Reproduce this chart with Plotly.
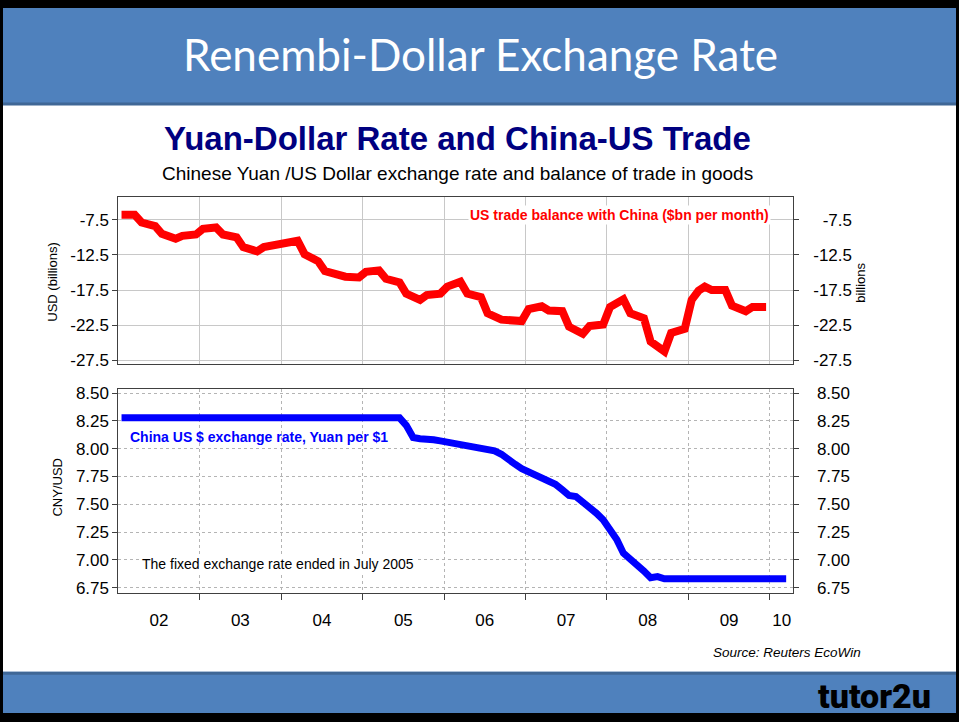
import plotly.graph_objects as go
import pandas as pd

W, H = 959, 722

# ---------------- data ----------------
red_dates = [
    "2002-01-15", "2002-03-15", "2002-04-15", "2002-06-15", "2002-07-15", "2002-09-15",
    "2002-10-15", "2002-12-15", "2003-01-15", "2003-03-15", "2003-04-15", "2003-06-15",
    "2003-07-15", "2003-09-15", "2003-10-15", "2003-12-15", "2004-01-15", "2004-03-15",
    "2004-04-15", "2004-06-15", "2004-07-15", "2004-09-15", "2004-10-15", "2004-12-15",
    "2005-01-15", "2005-03-15", "2005-04-15", "2005-06-15", "2005-07-15", "2005-09-15",
    "2005-10-15", "2005-12-15", "2006-01-15", "2006-03-15", "2006-04-15", "2006-06-15",
    "2006-07-15", "2006-09-15", "2006-10-15", "2006-12-15", "2007-01-15", "2007-03-15",
    "2007-04-15", "2007-06-15", "2007-07-15", "2007-09-15", "2007-10-15", "2007-12-15",
    "2008-01-15", "2008-03-15", "2008-04-15", "2008-06-15", "2008-07-15", "2008-09-15",
    "2008-10-15", "2008-12-15", "2009-01-15", "2009-02-15", "2009-03-15", "2009-04-15",
    "2009-06-15", "2009-07-15", "2009-09-15", "2009-10-15", "2009-12-15",
]
red_values = [
    -6.8, -6.8, -7.9, -8.4, -9.5, -10.2,
    -9.8, -9.6, -8.8, -8.6, -9.6, -10.0,
    -11.4, -12.0, -11.4, -11.1, -10.7, -10.5,
    -12.4, -13.4, -14.8, -15.5, -15.6, -15.7,
    -14.9, -14.7, -15.9, -16.4, -18.0, -18.9,
    -18.2, -18.0, -17.0, -16.3, -18.0, -18.5,
    -20.8, -21.7, -21.8, -21.9, -20.2, -19.8,
    -20.4, -20.5, -22.7, -23.7, -22.6, -22.4,
    -19.9, -18.8, -20.8, -21.5, -24.8, -26.2,
    -23.6, -23.0, -18.9, -17.6, -17.0, -17.5,
    -17.5, -19.7, -20.5, -19.9, -19.9,
]

blue_dates = pd.date_range("2002-01-01", periods=99, freq="MS") + pd.Timedelta(days=14)
blue_values = [
    8.277, 8.277, 8.277, 8.277, 8.277, 8.277, 8.277, 8.277, 8.277, 8.277, 8.277, 8.277,  # 2002
    8.277, 8.277, 8.277, 8.277, 8.277, 8.277, 8.277, 8.277, 8.277, 8.277, 8.277, 8.277,  # 2003
    8.277, 8.277, 8.277, 8.277, 8.277, 8.277, 8.277, 8.277, 8.277, 8.277, 8.277, 8.277,  # 2004
    8.277, 8.277, 8.277, 8.277, 8.277, 8.277, 8.21, 8.10, 8.09, 8.09, 8.08, 8.07,      # 2005
    8.06, 8.05, 8.03, 8.02, 8.01, 8.00, 7.99, 7.98, 7.95, 7.90, 7.86, 7.82,            # 2006
    7.79, 7.76, 7.74, 7.72, 7.68, 7.63, 7.58, 7.57, 7.52, 7.49, 7.42, 7.36,            # 2007
    7.28, 7.18, 7.06, 7.01, 6.97, 6.90, 6.84, 6.85, 6.83, 6.83, 6.83, 6.84,            # 2008
    6.84, 6.84, 6.84, 6.83, 6.83, 6.84, 6.84, 6.84, 6.83, 6.83, 6.83, 6.83,            # 2009
    6.83, 6.83, 6.83,                                                                  # 2010
]

year_bounds = ["2003-01-01", "2004-01-01", "2005-01-01", "2006-01-01",
               "2007-01-01", "2008-01-01", "2009-01-01", "2010-01-01"]
year_label_pos = ["2002-07-02", "2003-07-02", "2004-07-02", "2005-07-02", "2006-07-02",
                  "2007-07-02", "2008-07-02", "2009-07-02", "2010-02-23"]
year_labels = ["02", "03", "04", "05", "06", "07", "08", "09", "10"]

top_ticks = [-7.5, -12.5, -17.5, -22.5, -27.5]
top_tick_text = ["-7.5", "-12.5", "-17.5", "-22.5", "-27.5"]
bot_ticks = [8.50, 8.25, 8.00, 7.75, 7.50, 7.25, 7.00, 6.75]
bot_tick_text = ["8.50", "8.25", "8.00", "7.75", "7.50", "7.25", "7.00", "6.75"]

x_range = ["2002-01-01", "2010-04-16"]
top_range = [-28.06, -4.28]
bot_range = [6.703, 8.536]


def px(x):
    return x / W


def py(y):
    return 1 - y / H


FONT = "Arial"
tickfont = dict(family=FONT, size=17, color="black")

fig = go.Figure()

fig.add_trace(go.Scatter(x=red_dates, y=red_values, mode="lines",
                         line=dict(color="#ff0000", width=8),
                         xaxis="x", yaxis="y", showlegend=False, hoverinfo="skip"))
# carrier for right-hand tick labels (invisible)
fig.add_trace(go.Scatter(x=red_dates, y=red_values, mode="lines", opacity=0,
                         line=dict(width=0), xaxis="x", yaxis="y3",
                         showlegend=False, hoverinfo="skip"))
fig.add_trace(go.Scatter(x=blue_dates, y=blue_values, mode="lines",
                         line=dict(color="#0000ff", width=7),
                         xaxis="x2", yaxis="y2", showlegend=False, hoverinfo="skip"))
fig.add_trace(go.Scatter(x=blue_dates, y=blue_values, mode="lines", opacity=0,
                         line=dict(width=0), xaxis="x2", yaxis="y4",
                         showlegend=False, hoverinfo="skip"))

xdom = [px(118.4), px(793.3)]
top_dom = [py(365), py(195)]
bot_dom = [py(597), py(390)]
axcol = "#404040"

fig.update_layout(
    width=W, height=H,
    margin=dict(l=0, r=0, t=0, b=0),
    paper_bgcolor="black",
    plot_bgcolor="white",
    xaxis=dict(domain=xdom, anchor="y", range=x_range, type="date",
               showticklabels=False, ticks="", showgrid=False, zeroline=False,
               showline=True, linecolor=axcol, linewidth=1, mirror=True,
               tickvals=year_label_pos,
               minor=dict(tickvals=year_bounds, showgrid=True, gridcolor="#c8c8c8",
                          gridwidth=1, ticks="")),
    xaxis2=dict(domain=xdom, anchor="y2", range=x_range, type="date",
                tickvals=year_label_pos, ticktext=year_labels, ticks="",
                tickfont=tickfont, ticklabelstandoff=12,
                showgrid=False, zeroline=False,
                showline=True, linecolor=axcol, linewidth=1, mirror=True,
                minor=dict(tickvals=year_bounds, showgrid=True, gridcolor="#b4b4b4",
                           griddash="dot", gridwidth=1, ticks="outside",
                           ticklen=6, tickcolor=axcol)),
    yaxis=dict(domain=top_dom, anchor="x", range=top_range,
               tickvals=top_ticks, ticktext=top_tick_text, tickfont=tickfont,
               ticks="outside", ticklen=5, tickcolor=axcol,
               showgrid=True, gridcolor="#c8c8c8", gridwidth=1, zeroline=False,
               showline=True, linecolor=axcol, linewidth=1, mirror="ticks"),
    yaxis2=dict(domain=bot_dom, anchor="x2", range=bot_range,
                tickvals=bot_ticks, ticktext=bot_tick_text, tickfont=tickfont,
                ticks="outside", ticklen=5, tickcolor=axcol,
                showgrid=True, gridcolor="#b4b4b4", griddash="dot", gridwidth=1,
                zeroline=False,
                showline=True, linecolor=axcol, linewidth=1, mirror="ticks"),
    yaxis3=dict(overlaying="y", side="left", anchor="free", position=px(852),
                range=top_range, tickvals=top_ticks, ticktext=top_tick_text,
                tickfont=tickfont, ticks="", showgrid=False, zeroline=False,
                showline=False),
    yaxis4=dict(overlaying="y2", side="left", anchor="free", position=px(850),
                range=bot_range, tickvals=bot_ticks, ticktext=bot_tick_text,
                tickfont=tickfont, ticks="", showgrid=False, zeroline=False,
                showline=False),
)

shapes = [
    # slide background
    dict(type="rect", xref="paper", yref="paper", x0=px(3), x1=px(956), y0=py(719), y1=py(3),
         fillcolor="white", line=dict(width=0), layer="below"),
    # header band
    dict(type="rect", xref="paper", yref="paper", x0=px(3), x1=px(956), y0=py(101), y1=py(3),
         fillcolor="#4f81bd", line=dict(width=0), layer="below"),
    dict(type="rect", xref="paper", yref="paper", x0=px(3), x1=px(956), y0=py(102), y1=py(99),
         fillcolor="#3f6796", line=dict(width=0), layer="below"),
    # footer band
    dict(type="rect", xref="paper", yref="paper", x0=px(3), x1=px(956), y0=py(719), y1=py(677),
         fillcolor="#4f81bd", line=dict(width=0), layer="below"),
    dict(type="rect", xref="paper", yref="paper", x0=px(3), x1=px(956), y0=py(680), y1=py(677),
         fillcolor="#3f6796", line=dict(width=0), layer="below"),
]
fig.update_layout(shapes=shapes)

ann = []


def add_text(text, x, y, size, color="black", family=FONT, bold=False, italic=False,
             xanchor="center", yanchor="middle", angle=0, bg=None, weight=None):
    f = dict(family=family, size=size, color=color)
    if bold:
        f["weight"] = "bold"
    if weight is not None:
        f["weight"] = weight
    if italic:
        f["style"] = "italic"
    d = dict(text=text, x=px(x), y=py(y), xref="paper", yref="paper", showarrow=False,
             font=f, xanchor=xanchor, yanchor=yanchor, textangle=angle)
    if bg:
        d["bgcolor"] = bg
    ann.append(d)


add_text("Renembi-Dollar Exchange Rate", 480, 50, 44, color="white", family="Lato")
add_text("Yuan-Dollar Rate and China-US Trade", 457, 136, 33, color="#000080", bold=True)
add_text("Chinese Yuan /US Dollar exchange rate and balance of trade in goods", 457, 171, 19)
add_text("US trade balance with China ($bn per month)", 619, 213, 14, color="#ff0000",
         bold=True, bg="white")
add_text("China US $ exchange rate, Yuan per $1", 259, 439, 14, color="#0000ff", bold=True)
add_text("The fixed exchange rate ended in July 2005", 278, 568, 14, bg="white")
add_text("USD (billions)", 53, 282, 13, angle=-90)
add_text("billions", 861, 282, 13, angle=-90)
add_text("CNY/USD", 58, 490, 13, angle=-90)
add_text("Source: Reuters EcoWin", 863, 658, 13.5, italic=True, xanchor="right")
add_text("tutor2u", 874, 702, 34, family="Roboto", weight=900)
fig.update_layout(annotations=ann)

fig.write_html("out.html", config={"displayModeBar": False},
               post_script="document.body.style.margin='0';document.body.style.overflow='hidden';")
